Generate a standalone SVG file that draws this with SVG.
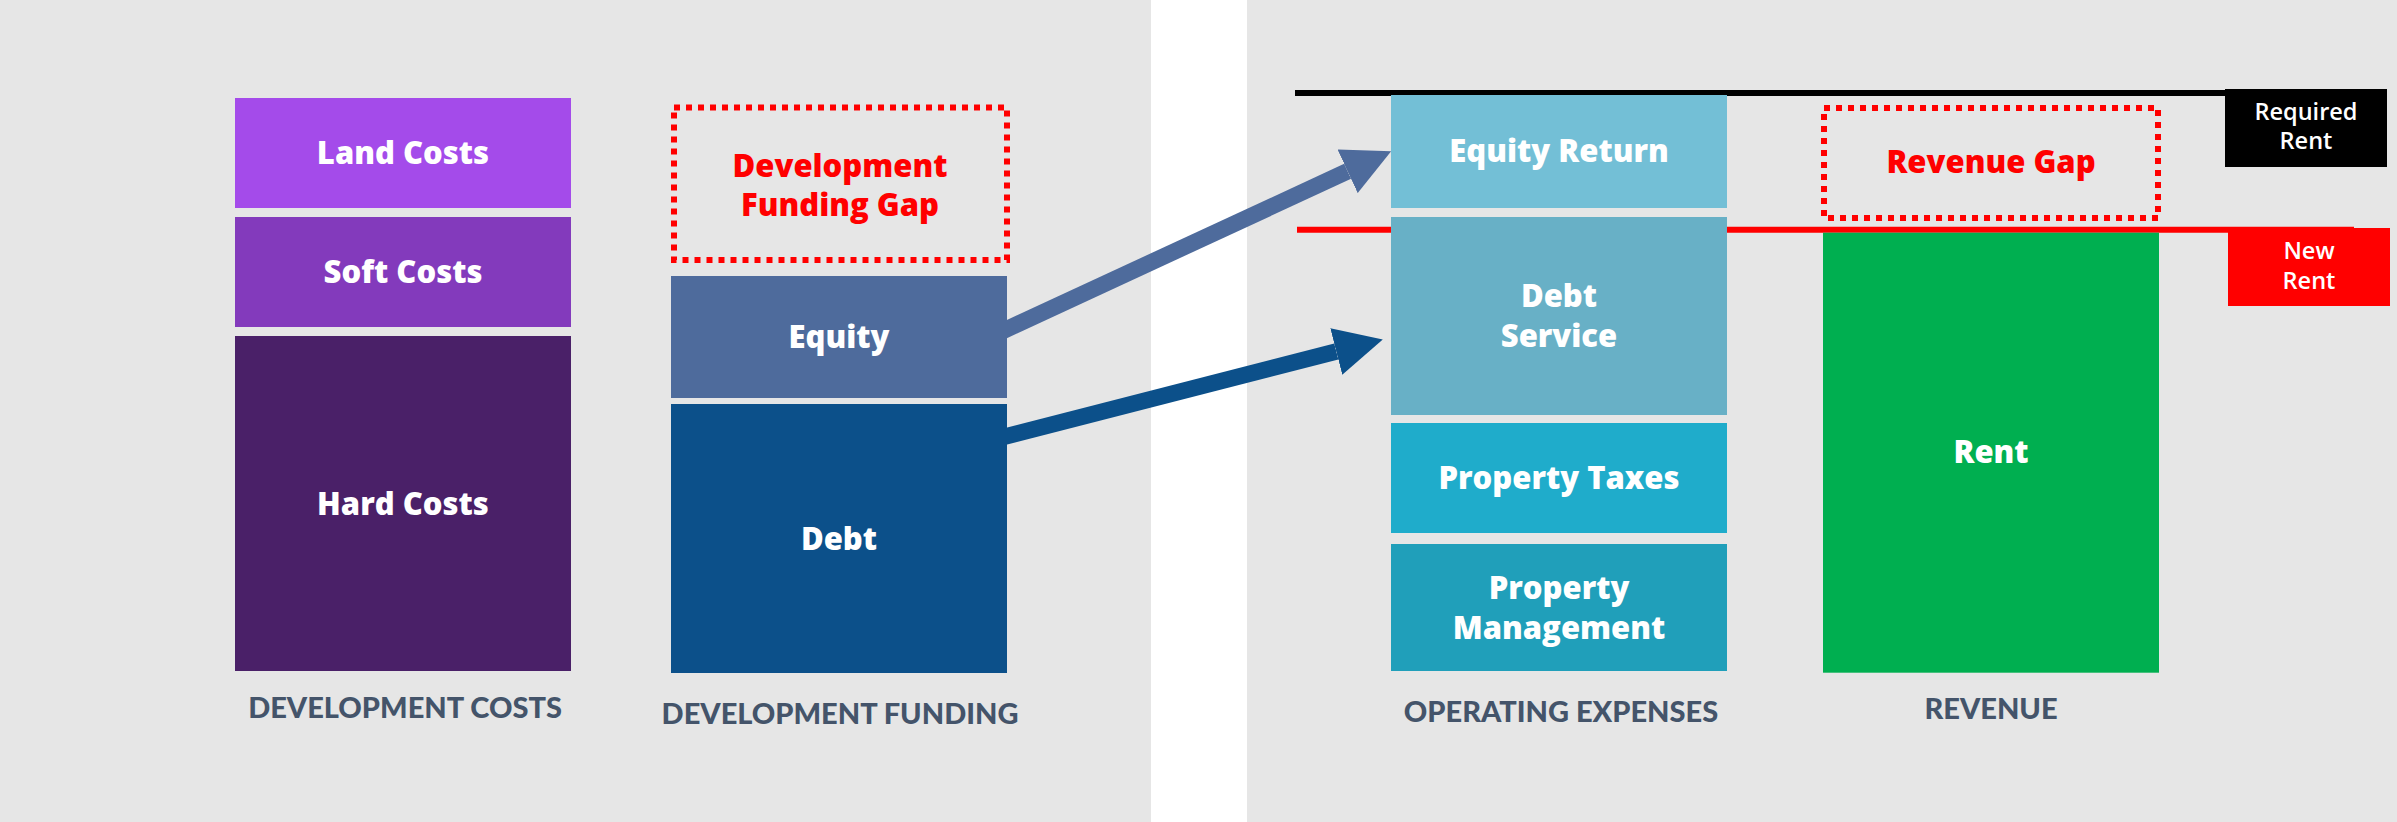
<svg xmlns="http://www.w3.org/2000/svg" width="2397" height="822" viewBox="0 0 2397 822">
<defs>
<style>
.bg{fill:#E6E6E6}
.lbl{font-family:"Open Sans","DejaVu Sans",sans-serif;font-weight:800;font-size:31px;fill:#FFFFFF;text-anchor:middle}
.gap{font-family:"Open Sans","DejaVu Sans",sans-serif;font-weight:800;font-size:31px;fill:#FF0000;text-anchor:middle}
.gapbox{fill:none;stroke:#FF0000;stroke-width:6;stroke-dasharray:6 6}
.cap{font-family:Lato,"Open Sans",sans-serif;font-weight:900;font-size:29px;fill:#44546A;text-anchor:middle}
.tag{font-family:"Open Sans","DejaVu Sans",sans-serif;font-weight:600;font-size:23.5px;fill:#FFFFFF;text-anchor:middle}
</style>
<marker id="headEq" markerUnits="userSpaceOnUse" markerWidth="48" markerHeight="48" viewBox="0 0 48 48" refX="0" refY="24" orient="auto">
<path d="M0,0 L48,24 L0,48 Z" fill="#4E6B9C"/>
</marker>
<marker id="headDebt" markerUnits="userSpaceOnUse" markerWidth="48" markerHeight="48" viewBox="0 0 48 48" refX="0" refY="24" orient="auto">
<path d="M0,0 L48,24 L0,48 Z" fill="#0C508A"/>
</marker>
</defs>
<rect x="0" y="0" width="2397" height="822" fill="#FFFFFF"/>
<rect class="bg" x="0" y="0" width="1151" height="822"/>
<rect class="bg" x="1247" y="0" width="1150" height="822"/>

<g id="rent-lines">
<line x1="1295" y1="93" x2="2226" y2="93" stroke="#000000" stroke-width="6"/>
<line x1="1297" y1="229.8" x2="2354" y2="229.8" stroke="#FF0000" stroke-width="6"/>
</g>

<g id="connectors">
<line x1="999.7" y1="332.4" x2="1347.6" y2="171.3" stroke="#4E6B9C" stroke-width="16.5" marker-end="url(#headEq)"/>
<line x1="999.3" y1="438" x2="1336.3" y2="351.5" stroke="#0C508A" stroke-width="16.5" marker-end="url(#headDebt)"/>
</g>

<g id="land-costs">
<rect x="235" y="98" width="336" height="110" fill="#A44BEA"/>
<text class="lbl" x="403" y="164">Land Costs</text>
</g>
<g id="soft-costs">
<rect x="235" y="217" width="336" height="110" fill="#833ABC"/>
<text class="lbl" x="403" y="283">Soft Costs</text>
</g>
<g id="hard-costs">
<rect x="235" y="336" width="336" height="335" fill="#4A2068"/>
<text class="lbl" x="403" y="515">Hard Costs</text>
</g>
<g id="label-dev-costs">
<text class="cap" x="405" y="718">DEVELOPMENT COSTS</text>
</g>

<g id="dev-funding-gap">
<rect class="gapbox" x="674" y="107.5" width="333" height="152.5"/>
<text class="gap" x="840" y="177">Development</text>
<text class="gap" x="840" y="216">Funding Gap</text>
</g>
<g id="equity">
<rect x="671" y="276" width="336" height="122" fill="#4E6B9C"/>
<text class="lbl" x="839" y="348">Equity</text>
</g>
<g id="debt">
<rect x="671" y="404" width="336" height="269" fill="#0C508A"/>
<text class="lbl" x="839" y="550">Debt</text>
</g>
<g id="label-dev-funding">
<text class="cap" x="840" y="724">DEVELOPMENT FUNDING</text>
</g>

<g id="equity-return">
<rect x="1391" y="95" width="336" height="113" fill="#73BFD6"/>
<text class="lbl" x="1559" y="162">Equity Return</text>
</g>
<g id="debt-service">
<rect x="1391" y="217" width="336" height="198" fill="#68B0C6"/>
<text class="lbl" x="1559" y="307">Debt</text>
<text class="lbl" x="1559" y="347">Service</text>
</g>
<g id="property-taxes">
<rect x="1391" y="423" width="336" height="110" fill="#1FACCB"/>
<text class="lbl" x="1559" y="489">Property Taxes</text>
</g>
<g id="property-management">
<rect x="1391" y="544" width="336" height="127" fill="#209FBA"/>
<text class="lbl" x="1559" y="599">Property</text>
<text class="lbl" x="1559" y="639">Management</text>
</g>
<g id="label-opex">
<text class="cap" x="1561" y="722">OPERATING EXPENSES</text>
</g>

<g id="revenue-gap">
<rect class="gapbox" x="1824" y="108" width="334" height="110"/>
<text class="gap" x="1991" y="173">Revenue Gap</text>
</g>
<g id="rent">
<rect x="1823" y="232.7" width="336" height="440" fill="#00AF50"/>
<text class="lbl" x="1991" y="463">Rent</text>
</g>
<g id="label-revenue">
<text class="cap" x="1991" y="719">REVENUE</text>
</g>

<g id="required-rent">
<rect x="2225" y="89" width="162" height="78" fill="#000000"/>
<text class="tag" x="2306" y="120">Required</text>
<text class="tag" x="2306" y="149">Rent</text>
</g>
<g id="new-rent">
<rect x="2228" y="228" width="162" height="78" fill="#FF0000"/>
<text class="tag" x="2309" y="259">New</text>
<text class="tag" x="2309" y="289">Rent</text>
</g>
</svg>
